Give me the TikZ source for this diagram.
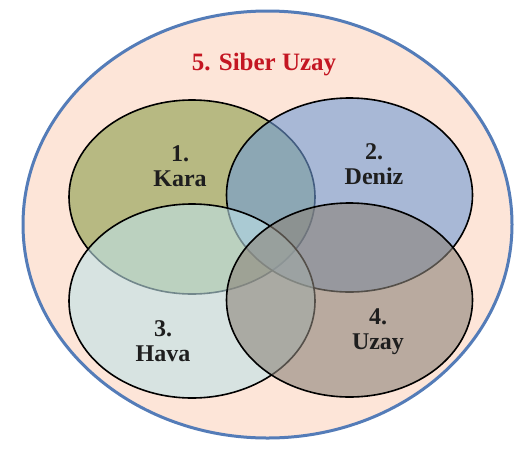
\documentclass[tikz,border=0pt]{standalone}
\usepackage{fontspec}
\setmainfont{Liberation Serif}
\usetikzlibrary{shapes.geometric}
\definecolor{bgpeach}{RGB}{253,229,216}
\definecolor{rimblue}{RGB}{84,124,184}
\definecolor{karafill}{RGB}{137,156,74}
\definecolor{denizfill}{RGB}{112,155,214}
\definecolor{havafill}{RGB}{190,226,232}
\definecolor{uzayfill}{RGB}{140,132,122}
\definecolor{siberred}{RGB}{196,22,34}
\definecolor{labeltext}{RGB}{30,30,30}
\tikzset{
  vennset/.style={ellipse, draw=black, line width=1.6pt, fill opacity=0.6,
    draw opacity=1, minimum width=246pt, minimum height=194pt,
    inner sep=0pt, outer sep=0pt},
  outerset/.style={ellipse, draw=rimblue, line width=3pt, fill=bgpeach,
    minimum width=489pt, minimum height=427pt, inner sep=0pt},
  lbl/.style={font=\fontsize{24}{28}\selectfont\bfseries, text=labeltext,
    align=center, inner sep=0pt}
}
\begin{document}
\begin{tikzpicture}[x=1pt,y=-1pt]
  \useasboundingbox (0,0) rectangle (521,450);
  \fill[white] (0,0) rectangle (521,450);
  % cyber space
  \node[outerset] (siber) at (267.5,224.5) {};
  \node[font=\fontsize{25}{28}\selectfont\bfseries, text=siberred, inner sep=0pt]
    (siberlbl) at (264,65) {5. Siber Uzay};
  % four physical domains
  \node[vennset, fill=karafill]  (kara)  at (192,197) {};
  \node[vennset, fill=denizfill] (deniz) at (349.5,195) {};
  \node[vennset, fill=havafill]  (hava)  at (192,301) {};
  \node[vennset, fill=uzayfill]  (uzay)  at (349.5,300) {};
  % labels
  \node[lbl] (karalbl)  at (180,166) {1.\\[-3pt]Kara};
  \node[lbl] (denizlbl) at (374,164) {2.\\[-3pt]Deniz};
  \node[lbl] (havalbl)  at (163,341) {3.\\[-3pt]Hava};
  \node[lbl] (uzaylbl)  at (378,332) {4.\\[-3pt]Uzay};
\end{tikzpicture}
\end{document}
